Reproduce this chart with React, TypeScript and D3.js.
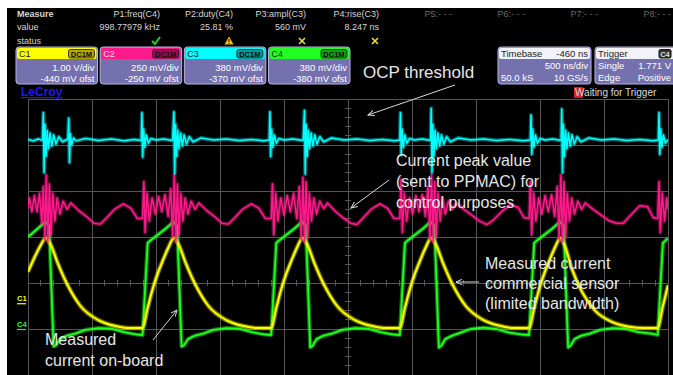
import React from 'react';
import * as d3 from 'd3';

type Pt = [number, number];

// measurement strip
const measureLabels = ['P1:freq(C4)', 'P2:duty(C4)', 'P3:ampl(C3)', 'P4:rise(C3)', 'P5:- - -', 'P6:- - -', 'P7:- - -', 'P8:- - -'];
const measureValues = ['998.77979 kHz', '25.81 %', '560 mV', '8.247 ns', '', '', '', ''];
const measureStatus = ['ok', 'warn', 'bad', 'bad', '', '', '', ''];

// channel descriptors
const channelNames = ['C1', 'C2', 'C3', 'C4'];
const channelVdiv = ['1.00 V/div', '250 mV/div', '380 mV/div', '380 mV/div'];
const channelOfst = ['-440 mV ofst', '-250 mV ofst', '-370 mV ofst', '-380 mV ofst'];
const channelZero = [-0.44, -1.0, -0.97, -1.0]; // ground level, divisions
const channelColor = ['#ffff00', '#ff1a8c', '#00ffff', '#22ff22'];
const channelBadge = ['#b3a600', '#9a0a55', '#009a9a', '#12a012'];

const timebaseRows = [['Timebase', '-460 ns'], ['', '500 ns/div'], ['50.0 kS', '10 GS/s']];
const triggerRows = [['Trigger', 'C4'], ['Single', '1.771 V'], ['Edge', 'Positive']];

// traces: [time µs, divisions from centre]
const c1Trace: Pt[] = [
  [0, 0.24], [0.05, 0.55], [0.095, 0.8], [0.14, 0.98], [0.175, 0.85], [0.23, 0.45], [0.31, -0.05], [0.41, -0.5], [0.545, -0.8], [0.675, -0.93], [0.795, -0.98],
  [0.895, -0.98], [0.935, -0.54], [0.975, -0.12], [1.015, 0.22], [1.055, 0.5], [1.095, 0.76], [1.14, 0.98], [1.175, 0.85], [1.23, 0.45], [1.31, -0.05], [1.41, -0.5], [1.545, -0.8], [1.675, -0.93], [1.795, -0.98],
  [1.9, -0.98], [1.94, -0.54], [1.98, -0.12], [2.02, 0.22], [2.06, 0.5], [2.1, 0.76], [2.145, 0.98], [2.18, 0.85], [2.235, 0.45], [2.315, -0.05], [2.415, -0.5], [2.55, -0.8], [2.68, -0.93], [2.8, -0.98],
  [2.905, -0.98], [2.945, -0.54], [2.985, -0.12], [3.025, 0.22], [3.065, 0.5], [3.105, 0.76], [3.15, 0.98], [3.185, 0.85], [3.24, 0.45], [3.32, -0.05], [3.42, -0.5], [3.555, -0.8], [3.685, -0.93], [3.805, -0.98],
  [3.915, -0.98], [3.955, -0.54], [3.995, -0.12], [4.035, 0.22], [4.075, 0.5], [4.115, 0.76], [4.16, 0.98], [4.195, 0.8], [4.25, 0.3], [4.33, -0.2], [4.43, -0.6], [4.565, -0.85], [4.695, -0.95], [4.815, -0.98],
  [4.92, -0.98], [4.96, -0.5], [5.0, -0.05],
];

const c2Trace: Pt[] = [
  [0, 1.63], [0.01, 1.85], [0.03, 1.55], [0.05, 1.9], [0.07, 1.55], [0.09, 1.95], [0.108, 1.3], [0.12, 2.1], [0.132, 0.95], [0.143, 2.35], [0.155, 0.9], [0.167, 2.15], [0.18, 1.05], [0.193, 1.95], [0.21, 1.35], [0.228, 1.85], [0.25, 1.5], [0.275, 1.78], [0.305, 1.6], [0.335, 1.74], [0.395, 1.58], [0.455, 1.45], [0.515, 1.3], [0.565, 1.28], [0.615, 1.42], [0.675, 1.6], [0.745, 1.72], [0.805, 1.62], [0.855, 1.4],
  [0.895, 1.4], [0.905, 2.2], [0.915, 1.1], [0.93, 1.95], [0.948, 1.35], [0.97, 1.85], [0.995, 1.5], [1.02, 1.88], [1.045, 1.55], [1.07, 1.92], [1.095, 1.45], [1.115, 2.05], [1.13, 1.0], [1.143, 2.35], [1.155, 0.9], [1.167, 2.15], [1.18, 1.05], [1.193, 1.95], [1.21, 1.35], [1.228, 1.85], [1.25, 1.5], [1.275, 1.78], [1.305, 1.6], [1.335, 1.74], [1.395, 1.58], [1.455, 1.45], [1.515, 1.3], [1.565, 1.28], [1.615, 1.42], [1.675, 1.6], [1.745, 1.72], [1.805, 1.62], [1.855, 1.4],
  [1.9, 1.4], [1.91, 2.15], [1.92, 1.05], [1.935, 1.95], [1.953, 1.35], [1.975, 1.85], [2.0, 1.48], [2.025, 1.9], [2.05, 1.55], [2.075, 1.95], [2.1, 1.4], [2.12, 2.1], [2.135, 0.95], [2.148, 2.3], [2.16, 0.9], [2.172, 2.2], [2.185, 1.0], [2.198, 1.95], [2.215, 1.35], [2.233, 1.85], [2.255, 1.5], [2.28, 1.78], [2.31, 1.62], [2.34, 1.74], [2.4, 1.56], [2.46, 1.42], [2.52, 1.3], [2.57, 1.27], [2.62, 1.42], [2.68, 1.6], [2.75, 1.72], [2.81, 1.62], [2.86, 1.4],
  [2.905, 1.4], [2.915, 2.25], [2.925, 1.1], [2.94, 1.95], [2.958, 1.35], [2.98, 1.85], [3.005, 1.5], [3.03, 1.9], [3.055, 1.55], [3.08, 1.92], [3.105, 1.45], [3.125, 2.1], [3.14, 0.95], [3.153, 2.35], [3.165, 0.9], [3.177, 2.2], [3.19, 1.0], [3.203, 1.95], [3.22, 1.35], [3.238, 1.85], [3.26, 1.5], [3.285, 1.78], [3.315, 1.6], [3.345, 1.74], [3.405, 1.6], [3.465, 1.48], [3.525, 1.35], [3.585, 1.27], [3.64, 1.38], [3.7, 1.55], [3.77, 1.7], [3.83, 1.64], [3.875, 1.42],
  [3.915, 1.4], [3.925, 2.2], [3.935, 1.05], [3.95, 1.95], [3.968, 1.35], [3.99, 1.85], [4.015, 1.5], [4.04, 1.9], [4.065, 1.55], [4.09, 1.92], [4.115, 1.45], [4.135, 2.1], [4.15, 0.95], [4.163, 2.35], [4.175, 0.9], [4.187, 2.2], [4.2, 1.0], [4.213, 1.95], [4.23, 1.35], [4.248, 1.85], [4.27, 1.5], [4.295, 1.78], [4.325, 1.6], [4.355, 1.74], [4.415, 1.6], [4.475, 1.48], [4.535, 1.36], [4.595, 1.3], [4.65, 1.3], [4.71, 1.48], [4.78, 1.68], [4.84, 1.66], [4.885, 1.42],
  [4.92, 1.4], [4.93, 2.2], [4.94, 1.1], [4.955, 1.95], [4.973, 1.35], [4.99, 1.85], [5.0, 1.6],
];

const c3Trace: Pt[] = [
  [0, 3.12], [0.04, 3.09], [0.08, 3.13], [0.113, 3.1],
  [0.12, 3.7], [0.126, 2.4], [0.133, 3.45], [0.141, 2.75], [0.15, 3.32], [0.16, 2.92], [0.172, 3.26], [0.186, 2.98], [0.2, 3.22], [0.218, 3.02], [0.24, 3.18], [0.27, 3.07],
  [0.312, 3.13], [0.318, 3.58], [0.324, 2.62], [0.331, 3.25], [0.341, 3.0], [0.355, 3.15], [0.375, 3.09],
  [0.45, 3.14], [0.55, 3.1], [0.65, 3.13], [0.75, 3.09], [0.83, 3.12], [0.885, 3.1],
  [0.89, 3.7], [0.896, 2.74], [0.903, 3.35], [0.912, 2.95], [0.924, 3.22], [0.94, 3.04], [0.96, 3.14],
  [1.0, 3.11], [1.06, 3.13], [1.13, 3.1],
  [1.14, 3.72], [1.146, 2.38], [1.153, 3.45], [1.161, 2.75], [1.17, 3.32], [1.18, 2.92], [1.192, 3.26], [1.206, 2.98], [1.22, 3.22], [1.238, 3.02], [1.26, 3.18], [1.29, 3.07],
  [1.35, 3.15], [1.45, 3.11], [1.55, 3.13], [1.65, 3.1], [1.75, 3.12], [1.84, 3.09], [1.885, 3.11],
  [1.89, 3.72], [1.896, 2.75], [1.903, 3.35], [1.912, 2.95], [1.924, 3.22], [1.94, 3.04], [1.96, 3.14],
  [2.0, 3.11], [2.07, 3.13], [2.15, 3.1],
  [2.16, 3.75], [2.166, 2.37], [2.173, 3.45], [2.181, 2.75], [2.19, 3.32], [2.2, 2.92], [2.212, 3.26], [2.226, 2.98], [2.24, 3.22], [2.258, 3.02], [2.28, 3.18], [2.31, 3.07],
  [2.37, 3.15], [2.47, 3.11], [2.57, 3.13], [2.67, 3.1], [2.77, 3.12], [2.86, 3.09], [2.905, 3.11],
  [2.91, 3.7], [2.916, 2.78], [2.923, 3.35], [2.932, 2.95], [2.944, 3.22], [2.96, 3.04], [2.98, 3.14],
  [3.02, 3.11], [3.08, 3.13], [3.145, 3.1],
  [3.15, 3.8], [3.156, 2.4], [3.163, 3.45], [3.171, 2.75], [3.18, 3.32], [3.19, 2.92], [3.202, 3.26], [3.216, 2.98], [3.23, 3.22], [3.248, 3.02], [3.27, 3.18], [3.3, 3.07],
  [3.36, 3.15], [3.46, 3.11], [3.56, 3.13], [3.66, 3.1], [3.76, 3.12], [3.87, 3.09], [3.925, 3.11],
  [3.93, 3.65], [3.936, 2.8], [3.943, 3.35], [3.952, 2.95], [3.964, 3.22], [3.98, 3.04], [4.0, 3.14],
  [4.04, 3.11], [4.1, 3.13], [4.165, 3.1],
  [4.17, 3.78], [4.176, 2.4], [4.183, 3.45], [4.191, 2.75], [4.2, 3.32], [4.21, 2.92], [4.222, 3.26], [4.236, 2.98], [4.25, 3.22], [4.268, 3.02], [4.29, 3.18], [4.32, 3.07],
  [4.38, 3.15], [4.48, 3.11], [4.58, 3.13], [4.68, 3.1], [4.78, 3.12], [4.88, 3.09], [4.925, 3.11],
  [4.93, 3.7], [4.936, 2.8], [4.943, 3.35], [4.952, 2.95], [4.964, 3.22], [4.98, 3.04], [5.0, 3.12],
];

const c4Trace: Pt[] = [
  [0, 1.0], [0.075, 1.18], [0.135, 1.33], [0.165, 1.25], [0.2, -1.38], [0.22, -1.35], [0.25, -1.22], [0.3, -1.15], [0.37, -1.1], [0.45, -1.02], [0.55, -0.98], [0.65, -0.99], [0.75, -1.07], [0.85, -1.12],
  [0.895, -1.13], [0.935, 0.87], [0.955, 0.92], [1.015, 1.05], [1.075, 1.18], [1.135, 1.33], [1.165, 1.25], [1.2, -1.38], [1.22, -1.35], [1.25, -1.22], [1.3, -1.15], [1.37, -1.1], [1.45, -1.02], [1.55, -0.98], [1.65, -0.99], [1.75, -1.07], [1.85, -1.12],
  [1.9, -1.13], [1.94, 0.87], [1.96, 0.92], [2.02, 1.05], [2.08, 1.18], [2.14, 1.33], [2.17, 1.25], [2.205, -1.4], [2.225, -1.36], [2.255, -1.22], [2.305, -1.15], [2.375, -1.1], [2.455, -1.02], [2.555, -0.98], [2.655, -0.99], [2.755, -1.07], [2.855, -1.12],
  [2.905, -1.13], [2.945, 0.87], [2.965, 0.92], [3.025, 1.05], [3.085, 1.18], [3.145, 1.33], [3.175, 1.25], [3.21, -1.4], [3.23, -1.36], [3.26, -1.22], [3.31, -1.15], [3.38, -1.08], [3.46, -1.0], [3.56, -0.97], [3.66, -1.0], [3.76, -1.08], [3.86, -1.12],
  [3.915, -1.13], [3.955, 0.87], [3.975, 0.92], [4.035, 1.05], [4.095, 1.18], [4.155, 1.33], [4.185, 1.25], [4.22, -1.4], [4.24, -1.36], [4.27, -1.22], [4.32, -1.15], [4.39, -1.1], [4.47, -1.02], [4.57, -0.98], [4.67, -1.0], [4.77, -1.07], [4.87, -1.1],
  [4.92, -1.13], [4.96, 0.87], [4.98, 0.92], [5.0, 0.97],
];

const FONT = 'Liberation Sans, Arial, sans-serif';
const NOTE = '#e6e6e6';

function StatusIcon({ kind, cx, cy }: { kind: string; cx: number; cy: number }) {
  if (kind === 'ok')
    return <path d={`M${cx - 4},${cy} L${cx - 1},${cy + 3} L${cx + 4},${cy - 4}`} fill="none" stroke="#2bd12b" strokeWidth={2} />;
  if (kind === 'warn')
    return (
      <g>
        <path d={`M${cx},${cy - 4.5} L${cx + 4.5},${cy + 3.5} L${cx - 4.5},${cy + 3.5}Z`} fill="#f2c400" />
        <line x1={cx} x2={cx} y1={cy - 2} y2={cy + 1} stroke="#000" strokeWidth={1} />
        <line x1={cx} x2={cx} y1={cy + 2} y2={cy + 3} stroke="#000" strokeWidth={1} />
      </g>
    );
  if (kind === 'bad')
    return (
      <g stroke="#e6dc4a" strokeWidth={1.6}>
        <line x1={cx - 3} y1={cy - 3} x2={cx + 3} y2={cy + 3} />
        <line x1={cx + 3} y1={cy - 3} x2={cx - 3} y2={cy + 3} />
      </g>
    );
  return null;
}

export default function App() {
  const x = d3.scaleLinear().domain([0, 5]).range([28, 668]);
  const y = d3.scaleLinear().domain([-4, 4]).range([467, 99]);
  const lin = d3.line<Pt>().x(d => x(d[0])).y(d => y(d[1]));
  const smooth = d3.line<Pt>().x(d => x(d[0])).y(d => y(d[1])).curve(d3.curveMonotoneX);

  const col = d3.scalePoint<string>().domain(measureLabels).range([160, 671]);
  const chx = d3.scaleBand<string>().domain(channelNames).range([16, 350]).paddingInner(0.032);
  const bw = chx.bandwidth();

  const xGrid = d3.range(0, 5.001, 0.5);
  const yGrid = d3.range(-4, 4.001, 1).filter(v => y(v) <= 376);
  const xMinor = d3.range(0, 5.001, 0.1);
  const yMinor = d3.range(-4, 4.001, 0.2).filter(v => y(v) <= 376);

  const traces = [
    { d: lin(c4Trace), color: channelColor[3], halo: 4.2, core: 1.8, op: 0.45 },
    { d: smooth(c1Trace), color: channelColor[0], halo: 4.5, core: 2, op: 0.45 },
    { d: lin(c2Trace), color: channelColor[1], halo: 4, core: 1.5, op: 0.4 },
    { d: lin(c3Trace), color: channelColor[2], halo: 4, core: 1.5, op: 0.4 },
  ];

  return (
    <svg width={673} height={375} style={{ position: 'absolute', left: 0, top: 0, display: 'block' }} fontFamily={FONT}>
      <defs>
        <clipPath id="plot">
          <rect x={28} y={99} width={640} height={280} />
        </clipPath>
        <marker id="ah" viewBox="0 0 10 10" refX={9} refY={5} markerWidth={7} markerHeight={7} orient="auto">
          <path d="M0,1 L9,5 L0,9" fill="none" stroke="#d8d8d8" strokeWidth={1.4} />
        </marker>
      </defs>
      <rect width={673} height={375} fill="#fff" />
      <rect x={7} y={8} width={666} height={367} fill="#000" />

      {/* measurement strip */}
      <g fontSize={9} fill="#d6d6d6">
        <text x={17} y={17} fontWeight="bold">Measure</text>
        <text x={17} y={30}>value</text>
        <text x={17} y={44}>status</text>
        {measureLabels.map((m, i) => (
          <text key={m} x={col(m)} y={17} textAnchor="end" fill={i < 4 ? '#d6d6d6' : '#6a6a6a'}>{m}</text>
        ))}
        {measureValues.map((v, i) => v && (
          <text key={'v' + i} x={col(measureLabels[i])} y={30} textAnchor="end">{v}</text>
        ))}
      </g>
      {measureStatus.map((s, i) => (
        <StatusIcon key={'s' + i} kind={s} cx={(col(measureLabels[i]) as number) - 4} cy={41} />
      ))}

      {/* channel boxes */}
      {channelNames.map((c, i) => {
        const x0 = chx(c) as number;
        return (
          <g key={c}>
            <rect x={x0} y={47} width={bw} height={37} rx={3} fill="#7570ae" stroke="#b9b5e2" strokeWidth={1} />
            <rect x={x0 + 1} y={48} width={bw - 2} height={11} rx={2} fill={channelColor[i]} />
            <text x={x0 + 3} y={57} fontSize={9} fill={i === 1 ? '#ffd6ea' : '#222'}>{c}</text>
            <rect x={x0 + bw - 29} y={49.5} width={26} height={8.5} rx={2} fill={channelBadge[i]} stroke="#111" strokeWidth={0.8} />
            <text x={x0 + bw - 16} y={57} fontSize={7.5} fontWeight="bold" textAnchor="middle" fill="#111">DC1M</text>
            <text x={x0 + bw - 3} y={70.5} fontSize={9.5} textAnchor="end" fill="#fff">{channelVdiv[i]}</text>
            <text x={x0 + bw - 3} y={81.5} fontSize={9.5} textAnchor="end" fill="#fff">{channelOfst[i]}</text>
          </g>
        );
      })}

      {/* timebase & trigger */}
      {[{ x0: 498, w: 93, rows: timebaseRows }, { x0: 595, w: 90, rows: triggerRows }].map((b, k) => (
        <g key={k} fontSize={9.5}>
          <rect x={b.x0} y={47} width={b.w} height={37} rx={3} fill="#7570ae" stroke="#b9b5e2" strokeWidth={1} />
          <rect x={b.x0 + 1} y={48} width={b.w - 2} height={11} rx={2} fill="#f2f2fa" />
          {b.rows.map((r, j) => (
            <g key={j}>
              <text x={b.x0 + 3} y={57 + j * 12} fill={j === 0 ? '#222' : '#fff'}>{r[0]}</text>
              {k === 1 && j === 0 ? (
                <g>
                  <rect x={659} y={49.5} width={12} height={8.5} rx={1.5} fill="#333" stroke="#111" />
                  <text x={665} y={57} fontSize={7.5} fontWeight="bold" textAnchor="middle" fill="#ddd">{r[1]}</text>
                </g>
              ) : (
                <text x={k === 1 ? 671 : b.x0 + b.w - 3} y={57 + j * 12} textAnchor="end" fill={j === 0 ? '#222' : '#fff'}>{r[1]}</text>
              )}
            </g>
          ))}
        </g>
      ))}

      <text x={21} y={96} fontSize={12} fontWeight="bold" fill="#1a1aee" textDecoration="underline">LeCroy</text>
      <rect x={574} y={87} width={9} height={11} fill="#d42020" />
      <text x={575} y={96} fontSize={10} fill="#dcdcdc">Waiting for Trigger</text>

      {/* graticule */}
      <g stroke="#555" strokeWidth={1} shapeRendering="crispEdges">
        {xGrid.map(t => <line key={'x' + t} x1={x(t)} x2={x(t)} y1={y(4)} y2={375} />)}
        {yGrid.map(v => <line key={'y' + v} x1={x(0)} x2={x(5)} y1={y(v)} y2={y(v)} />)}
        {xMinor.map(t => <line key={'mx' + t} x1={x(t)} x2={x(t)} y1={y(0) - 3} y2={y(0) + 3} />)}
        {yMinor.map(v => <line key={'my' + v} x1={x(2.5) - 3} x2={x(2.5) + 3} y1={y(v)} y2={y(v)} />)}
      </g>

      {/* ground markers */}
      {[0, 3].map(i => (
        <g key={'gm' + i}>
          <text x={17} y={y(channelZero[i]) - 2} fontSize={7.5} fontWeight="bold" fill={channelColor[i]}>{channelNames[i]}</text>
          <line x1={17} x2={26} y1={y(channelZero[i]) + 0.5} y2={y(channelZero[i]) + 0.5} stroke={channelColor[i]} strokeWidth={1.2} />
        </g>
      ))}

      {/* traces */}
      <g clipPath="url(#plot)" fill="none" strokeLinejoin="round">
        {traces.map((t, i) => (
          <g key={i}>
            <path d={t.d || ''} stroke={t.color} strokeWidth={t.halo} strokeOpacity={t.op} />
            <path d={t.d || ''} stroke={t.color} strokeWidth={t.core} />
          </g>
        ))}
      </g>

      {/* annotations */}
      <g fill={NOTE}>
        <text x={363} y={78} fontSize={17}>OCP threshold</text>
        <g fontSize={16}>
          <text x={396} y={166}>Current peak value</text>
          <text x={396} y={187}>(sent to PPMAC) for</text>
          <text x={396} y={208}>control purposes</text>
          <text x={485} y={269}>Measured current</text>
          <text x={485} y={289}>commercial sensor</text>
          <text x={485} y={309}>(limited bandwidth)</text>
          <text x={45} y={345}>Measured</text>
          <text x={45} y={366}>current on-board</text>
        </g>
      </g>
      <g stroke="#d8d8d8" strokeWidth={1} markerEnd="url(#ah)">
        <line x1={455} y1={85} x2={368} y2={115} />
        <line x1={389} y1={180} x2={351} y2={208} />
        <line x1={479} y1={282} x2={456} y2={282} />
        <line x1={153} y1={340} x2={177} y2={310} />
      </g>
    </svg>
  );
}
